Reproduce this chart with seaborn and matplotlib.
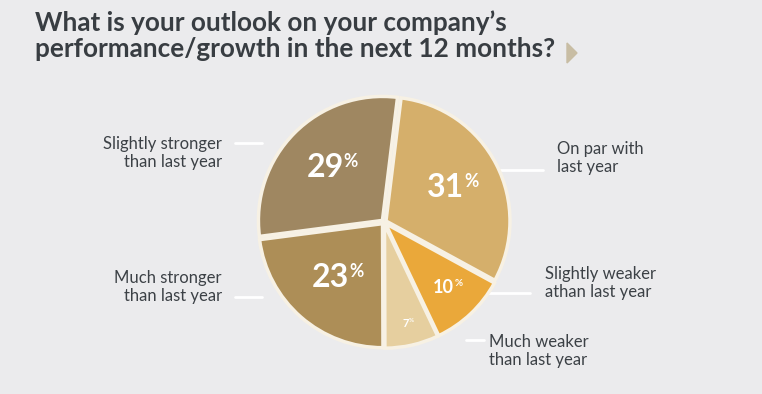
import numpy as np
import matplotlib
matplotlib.use("Agg")
import matplotlib.pyplot as plt
import seaborn as sns

# data, clockwise from the top
labels = ["On par with\nlast year", "Slightly weaker\nathan last year", "Much weaker\nthan last year",
          "Much stronger\nthan last year", "Slightly stronger\nthan last year"]
shares = [31, 10, 7, 23, 29]
colors = ["#d5af6b", "#eaa83a", "#e6cf9f", "#ad8e57", "#9f8761"]
pct_sizes = [23, 13, 8, 23, 23]

sns.set_theme(style="white")
plt.rcParams["font.family"] = ["Lato", "DejaVu Sans"]
bg = "#ebebed"
dark = "#383d42"

fig = plt.figure(figsize=(7.62, 3.94), dpi=100, facecolor=bg)
W, H = 762, 394
cx, cy, R = 384, 222, 124
lim = 1.1
side = 2 * R * lim
ax = fig.add_axes([(cx - side / 2) / W, (H - cy - side / 2) / H, side / W, side / H])
ax.set_facecolor(bg)

wedges, _ = ax.pie(shares, colors=colors, startangle=83, counterclock=False,
                   explode=[0.018] * len(shares),
                   wedgeprops=dict(edgecolor="#f7f1e4", linewidth=2.5))
ax.set_xlim(-lim, lim)
ax.set_ylim(-lim, lim)
ax.set_aspect("equal")
ax.axis("off")

# percentage labels with a small raised % sign
pct_dist = [0.6, 0.73, 0.84, 0.6, 0.62]
for w, v, fs, d in zip(wedges, shares, pct_sizes, pct_dist):
    mid = np.deg2rad((w.theta1 + w.theta2) / 2)
    x, y = d * np.cos(mid), d * np.sin(mid)
    t = ax.text(x - 0.03 * fs / 20, y, str(v), ha="center", va="center", color="white",
                fontsize=fs, fontweight="bold")
    ax.annotate("%", xy=(1, 1), xycoords=t, ha="left", va="top", color="white",
                fontsize=fs * 0.55, fontweight="bold", xytext=(0, 0), textcoords="offset points")

# category labels and white leader lines (pixel positions)
def px(x, y):
    return x / W, 1 - y / H

label_pos = [(557, 158, "left"), (545, 283, "left"), (489, 351, "left"),
             (222, 287, "right"), (222, 153, "right")]
lines = [((497, 170), (543, 170)), ((480, 293), (530, 293)), ((466, 340), (484, 340)),
         ((235, 297), (262, 297)), ((235, 143), (262, 143))]
for lab, (x, y, ha), ((x0, y0), (x1, y1)) in zip(labels, label_pos, lines):
    fx, fy = px(x, y)
    fig.text(fx, fy, lab, ha=ha, va="center", fontsize=12, color="#3c4146",
             linespacing=1.2)
    fig.add_artist(plt.Line2D([x0 / W, x1 / W], [1 - y0 / H, 1 - y1 / H],
                              color="white", linewidth=2, zorder=0))

# title
fig.text(35 / W, 1 - 10 / H, "What is your outlook on your company\u2019s\nperformance/growth in the next 12 months?",
         ha="left", va="top", fontsize=18.8, fontweight="bold", color=dark, linespacing=1.12)
tri = plt.Polygon([px(567, 43), px(567, 63), px(577, 53)], closed=True,
                  color="#c8bda4", transform=fig.transFigure)
fig.add_artist(tri)

fig.savefig("out.png", dpi=100, facecolor=bg)
